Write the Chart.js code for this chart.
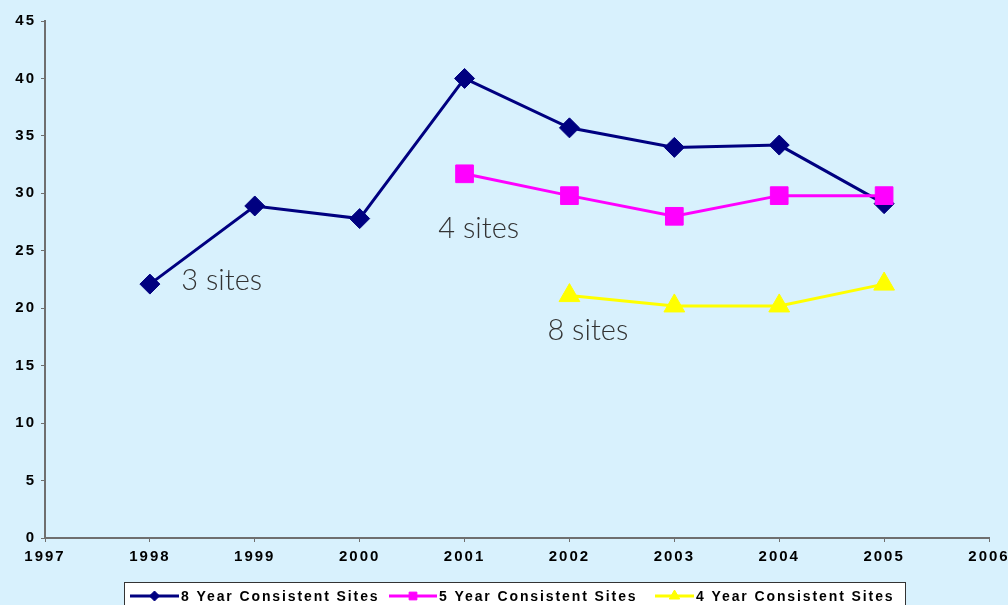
<!DOCTYPE html>
<html>
<head>
<meta charset="utf-8">
<script src="https://cdn.jsdelivr.net/npm/chart.js@4.4.1/dist/chart.umd.min.js"></script>
<style>
  html, body { margin: 0; padding: 0; background: #D8F1FD; }
  #wrap { width: 1008px; height: 605px; position: relative; }
</style>
</head>
<body>
<div id="wrap"><canvas id="c" width="1008" height="605"></canvas></div>
<script>
// ---- data ----
const years = [1998, 1999, 2000, 2001, 2002, 2003, 2004, 2005];
const eightYear = [22.1, 28.9, 27.8, 40.0, 35.7, 34.0, 34.2, 29.1];
const fiveYear = [null, null, null, 31.7, 29.8, 28.0, 29.8, 29.8];
const fourYear = [null, null, null, null, 21.1, 20.2, 20.2, 22.1];
const seriesNames = ['8 Year Consistent Sites', '5 Year Consistent Sites', '4 Year Consistent Sites'];
const xMin = 1997, xMax = 2006;
const yMin = 0, yMax = 45, yStep = 5;
const notes = [
  { text: '3 sites', x: 1998.30, y: 21.6 },
  { text: '4 sites', x: 2000.75, y: 26.1 },
  { text: '8 sites', x: 2001.79, y: 17.2 }
];

function pts(vals) {
  const out = [];
  vals.forEach((v, i) => { if (v !== null) out.push({ x: years[i], y: v }); });
  return out;
}

const colors = ['#000080', '#FF00FF', '#FFFF00'];
const styles = ['rectRot', 'rect', 'triangle'];
const radii = [10, 12.5, 12];
const legendRadii = [5, 5.5, 6];

const datasets = [eightYear, fiveYear, fourYear].map((vals, i) => ({
  label: seriesNames[i],
  data: pts(vals),
  borderColor: colors[i],
  backgroundColor: colors[i],
  borderWidth: 3,
  pointStyle: styles[i],
  pointRadius: radii[i],
  pointBorderWidth: 1,
  pointBackgroundColor: colors[i],
  pointBorderColor: colors[i],
  tension: 0,
  order: 2 - i
}));

function marker(ctx, style, r, x, y) {
  ctx.beginPath();
  if (style === 'rectRot') {
    ctx.moveTo(x, y - r); ctx.lineTo(x + r, y); ctx.lineTo(x, y + r); ctx.lineTo(x - r, y);
  } else if (style === 'rect') {
    const s = r * Math.SQRT1_2;
    ctx.rect(x - s, y - s, 2 * s, 2 * s);
  } else {
    ctx.moveTo(x, y - r);
    ctx.lineTo(x + r * 0.866, y + r * 0.5);
    ctx.lineTo(x - r * 0.866, y + r * 0.5);
  }
  ctx.closePath();
  ctx.fill();
  ctx.stroke();
}

const spacingPlugin = {
  id: 'spacing',
  beforeDraw(chart) {
    chart.ctx.letterSpacing = '2px';
  },
  afterDraw(chart) {
    const ctx = chart.ctx;
    const xs = chart.scales.x, ys = chart.scales.y;
    // annotations
    ctx.save();
    ctx.letterSpacing = '0px';
    ctx.font = '300 29px Lato, "Open Sans", sans-serif';
    ctx.fillStyle = '#333333';
    ctx.textAlign = 'left';
    ctx.textBaseline = 'alphabetic';
    notes.forEach(n => {
      ctx.fillText(n.text, xs.getPixelForValue(n.x), ys.getPixelForValue(n.y));
    });
    ctx.restore();

    // legend
    ctx.save();
    ctx.letterSpacing = '1.9px';
    ctx.fillStyle = '#FFFFFF';
    ctx.fillRect(124.5, 582.5, 781, 30);
    ctx.strokeStyle = '#333333';
    ctx.lineWidth = 1;
    ctx.strokeRect(124.5, 582.5, 781, 30);
    const lx = [130, 389, 655];
    const lw = [49, 48, 39];
    const ly = 596;
    ctx.font = 'bold 14px "Liberation Sans", Arial, sans-serif';
    ctx.textBaseline = 'middle';
    ctx.textAlign = 'left';
    seriesNames.forEach((name, i) => {
      ctx.strokeStyle = colors[i];
      ctx.lineWidth = 3;
      ctx.beginPath();
      ctx.moveTo(lx[i], ly);
      ctx.lineTo(lx[i] + lw[i], ly);
      ctx.stroke();
      ctx.fillStyle = colors[i];
      ctx.lineWidth = 1;
      marker(ctx, styles[i], legendRadii[i], lx[i] + lw[i] / 2, ly);
      ctx.fillStyle = '#000000';
      ctx.fillText(name, lx[i] + lw[i] + 2, ly + 1);
    });
    ctx.restore();
  }
};

const tickFont = { family: '"Liberation Sans", Arial, sans-serif', size: 15, weight: 'bold' };

new Chart(document.getElementById('c'), {
  type: 'line',
  data: { datasets },
  plugins: [spacingPlugin],
  options: {
    responsive: false,
    animation: false,
    events: [],
    layout: { padding: { top: 21, right: 19, left: 0, bottom: 0 } },
    plugins: { legend: { display: false }, tooltip: { enabled: false } },
    scales: {
      x: {
        type: 'linear',
        min: xMin, max: xMax,
        ticks: {
          stepSize: 1,
          callback: v => String(v),
          font: tickFont,
          color: '#000000',
          padding: 6,
          maxRotation: 0,
          autoSkip: false
        },
        grid: { display: true, drawOnChartArea: false, tickLength: 4, tickColor: '#6f6f6f', tickWidth: 1 },
        border: { display: true, color: '#6f6f6f', width: 2 },
        afterFit(s) { s.height = 67; s.paddingLeft = 0; s.paddingRight = 0; }
      },
      y: {
        min: yMin, max: yMax,
        ticks: {
          stepSize: yStep,
          font: tickFont,
          color: '#000000',
          padding: 5
        },
        grid: { display: true, drawOnChartArea: false, tickLength: 4, tickColor: '#6f6f6f', tickWidth: 1 },
        border: { display: true, color: '#6f6f6f', width: 2 },
        afterFit(s) { s.width = 45; s.paddingTop = 0; s.paddingBottom = 0; }
      }
    }
  }
});
</script>
</body>
</html>
